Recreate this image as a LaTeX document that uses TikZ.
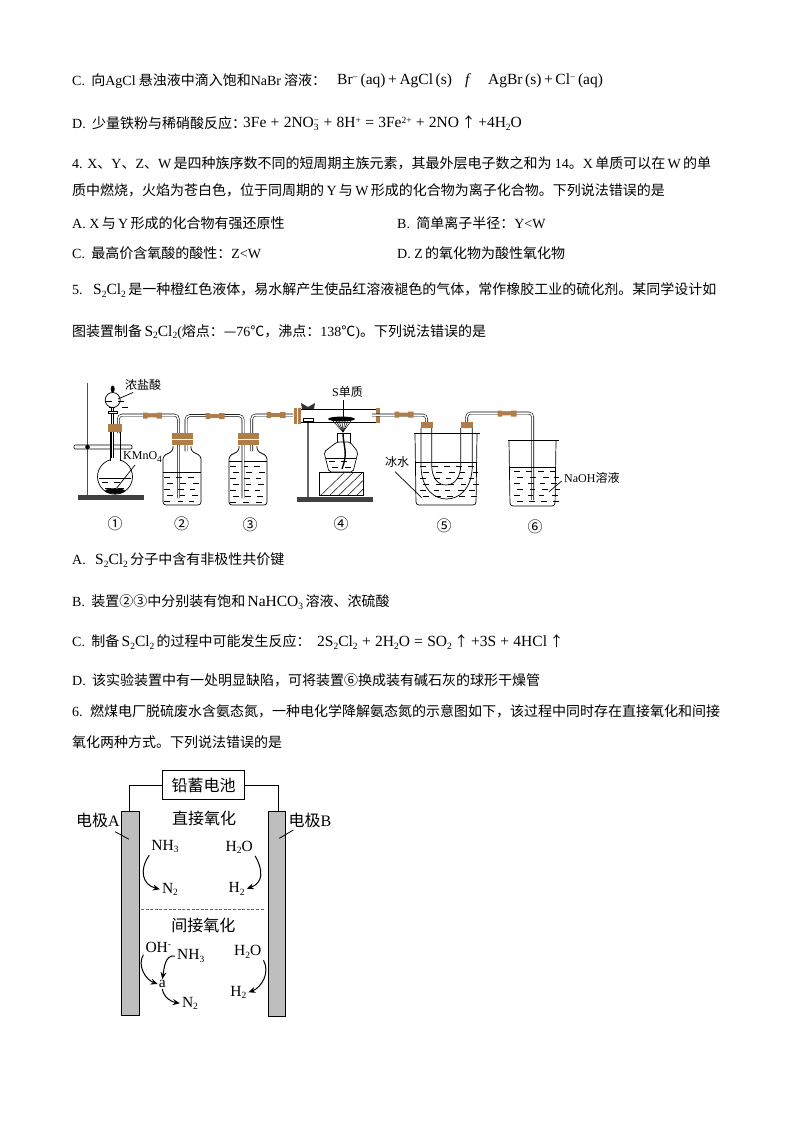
\documentclass[tikz,border=0pt]{standalone}
\usepackage{fontspec}
\setmainfont{Noto Sans CJK SC}
\newfontfamily\latfont{Liberation Serif}
\usetikzlibrary{positioning,arrows.meta}
\definecolor{plugcol}{HTML}{B07D48}
\definecolor{railgray}{HTML}{BEBEBE}
\definecolor{sepblue}{HTML}{3F6F8F}
\newcommand\la[1]{{\latfont #1}}
\newcommand\lo[1]{\raisebox{-2.5pt}{\fontsize{9.5}{10}\selectfont #1}}
\newcommand\hi[1]{\raisebox{4.5pt}{\fontsize{9.5}{10}\selectfont #1}}
\newcommand\eqn[1]{{\latfont\fontsize{15.5}{17}\selectfont #1}}
\newcommand\wash[4]{\foreach \dy in {0,6,...,#4}{\foreach \dx in {0,12,...,#3}{
  \pgfmathsetmacro{\wx}{#1+\dx+mod(\dy,12)/2+mod(\dx*\dy,5)/2}
  \pgfmathsetmacro{\wy}{#2+\dy}
  \draw[line width=.45pt] (\wx,\wy) -- ++(5.5,0);}}}
\newcommand\hose[2]{\fill[plugcol] (#1-9.5,#2-3) rectangle (#1-5,#2+3) (#1-5,#2-1.8) rectangle (#1+5,#2+1.8) (#1+4,#2-3) rectangle (#1+9.5,#2+3);}
\newcommand\bottle[3]{\begin{scope}[xshift=#1pt]
\draw[glass,rounded corners=3pt] (-9,446) -- (-9,451) -- (-19,456) -- (-19,505) -- (19,505) -- (19,456) -- (9,451) -- (9,446);
\draw[glass] (-19,#2) -- (19,#2);
\wash{-18}{#2+5}{30}{#3}
\end{scope}}
\tikzset{
  txt/.style={anchor=west,inner sep=0pt,font=\fontsize{14}{15}\selectfont},
  tag/.style={inner sep=1pt,font=\fontsize{12}{13}\selectfont},
  chem/.style={inner sep=2pt,font=\latfont\fontsize{15.5}{17}\selectfont},
  hanzi/.style={inner sep=1pt,font=\fontsize{16}{18}\selectfont},
  num/.style={inner sep=0pt,font=\fontsize{15}{16}\selectfont},
  glass/.style={line width=.7pt},
  tube/.style={draw=black,line width=.55pt,double=white,double distance=1.5pt,rounded corners=4pt},
  plug/.style={fill=plugcol,inner sep=0pt,rectangle},
  rail/.style={draw,line width=1pt,fill=railgray,inner sep=0pt,rectangle},
  curve/.style={-{Stealth[length=7pt,width=6pt]},line width=1pt}
}
\begin{document}
\begin{tikzpicture}[x=1pt,y=-1pt]
\useasboundingbox (0,0) rectangle (794,1123);
% question text
\node[txt] (q1) at (72,81) {\la{C.} \ 向\la{AgCl} 悬浊液中滴入饱和\la{NaBr} 溶液：};
\node[txt] (q1a) at (337,81) {\eqn{Br\hi{−}\,(aq)\,+\,AgCl\,(s)}};
\node[txt] (q1f) at (465,81) {\eqn{\itshape f}};
\node[txt] (q1b) at (488,81) {\eqn{AgBr\,(s)\,+\,Cl\hi{−}\,(aq)}};
\node[txt] (q2a) at (72,123) {\la{D.} \ 少量铁粉与稀硝酸反应：};
\node[txt] (q2b) at (243,123) {\eqn{3Fe\;+\;2NO\rlap{\lo{3}}\hi{−}\;+\;8H\hi{+}\;=\;3Fe\hi{2+}\;+\;2NO\,}↑\eqn{\,+4H\lo{2}O}};
\node[txt] (q3) at (72,163) {\la{4. X}、\la{Y}、\la{Z}、\la{W}\,是四种族序数不同的短周期主族元素，其最外层电子数之和为 \la{14}。\la{X}\,单质可以在\,\la{W}\,的单};
\node[txt] (q4) at (72,190) {质中燃烧，火焰为苍白色，位于同周期的\,\la{Y}\,与\,\la{W}\,形成的化合物为离子化合物。下列说法错误的是};
\node[txt] (q5) at (72,223) {\la{A. X}\,与\,\la{Y}\,形成的化合物有强还原性};
\node[txt] (q6) at (397,223) {\la{B.} \ 简单离子半径：\la{Y<W}};
\node[txt] (q7) at (72,253) {\la{C.} \ 最高价含氧酸的酸性：\la{Z<W}};
\node[txt] (q8) at (397,253) {\la{D. Z}\,的氧化物为酸性氧化物};
\node[txt] (q9) at (72,290) {\la{5.} \ \ \eqn{S\lo{2}Cl\lo{2}}\,是一种橙红色液体，易水解产生使品红溶液褪色的气体，常作橡胶工业的硫化剂。某同学设计如};
\node[txt] (q10) at (72,332) {图装置制备\,\eqn{S\lo{2}Cl\lo{2}}\la{(}熔点：—\la{76}℃，沸点：\la{138}℃\la{)}。下列说法错误的是};
\node[txt] (q11) at (72,560) {\la{A.} \ \ \eqn{S\lo{2}Cl\lo{2}}\,分子中含有非极性共价键};
\node[txt] (q12) at (72,602) {\la{B.} \ 装置②③中分别装有饱和\,\eqn{NaHCO\lo{3}}\,溶液、浓硫酸};
\node[txt] (q13a) at (72,642) {\la{C.} \ 制备\,\eqn{S\lo{2}Cl\lo{2}}\,的过程中可能发生反应：};
\node[txt] (q13b) at (317,642) {\eqn{2S\lo{2}Cl\lo{2}\;+\;2H\lo{2}O\;=\;SO\lo{2}\,}↑\eqn{\,+3S\;+\;4HCl\,}↑};
\node[txt] (q14) at (72,680) {\la{D.} \ 该实验装置中有一处明显缺陷，可将装置⑥换成装有碱石灰的球形干燥管};
\node[txt] (q15) at (72,711) {\la{6.} \ 燃煤电厂脱硫废水含氨态氮，一种电化学降解氨态氮的示意图如下，该过程中同时存在直接氧化和间接};
\node[txt] (q16) at (72,742) {氧化两种方式。下列说法错误的是};
% apparatus 1
\fill[black!75] (78,495) rectangle (144,500);
\draw[line width=1.4pt,black!70] (87.5,383) -- (87.5,495);
\draw[glass,fill=white,rounded corners=1pt] (74,445) rectangle (132,449);
\node[draw,circle,fill=black,inner sep=0pt,minimum size=4] (clamp) at (87.5,447) {};
\node[draw,circle,line width=.7pt,minimum size=35,inner sep=0pt] (flask) at (115,476.7) {};
\fill[white] (110,452) rectangle (120,463);
\draw[glass] (110,432) -- (110,461) (120,432) -- (120,461);
\draw[glass] (99,478) -- (131,478);
\wash{102}{482}{22}{6}
\fill (115,491) ellipse [x radius=10pt,y radius=2.8pt];
\node[draw,circle,line width=.7pt,minimum size=15,inner sep=0pt] (funnel) at (112.7,400) {};
\fill (112.7,389) ellipse [x radius=2pt,y radius=3.5pt];
\wash{106}{401}{7}{6}
\draw[tube] (112.5,408) -- (112.5,458);
\draw[glass,fill=white] (108,411) rectangle (117,413.5);
\draw[tube] (118.3,433) -- (118.3,415) -- (178.3,415) -- (178.3,498);
\node[plug,minimum width=14,minimum height=8] (plug1) at (115,428) {};
\hose{152.5}{415.5}
\node[tag,anchor=west] (hcl) at (124,385) {浓盐酸};
\draw[glass] (118,399) -- (133,392.5);
\node[chem,font=\latfont\fontsize{12}{13}\selectfont,anchor=west] (kmno) at (121,457) {KMnO\lo{4}};
\draw[glass] (135,465) -- (116.7,488);
\node[num] (n1) at (115,524) {①};
% apparatus 2 and 3
\bottle{182}{472}{24}
\bottle{248}{461}{36}
\draw[tube] (186,451) -- (186,415.5) -- (243,415.5) -- (243,498);
\draw[tube] (251.7,451) -- (251.7,415) -- (293,415);
\node[plug,minimum width=21,minimum height=12.5] (plug2) at (182,439) {};
\node[plug,minimum width=21,minimum height=12.5] (plug3) at (248.4,439) {};
\draw[white,line width=.5pt] (plug2.west) -- (plug2.east) (plug3.west) -- (plug3.east);
\hose{215}{416}
\hose{276}{415}
\node[num] (n2) at (181.7,524) {②};
\node[num] (n3) at (250,525) {③};
% apparatus 4
\fill[black!75] (297,497) rectangle (372.7,502);
\draw[line width=1.2pt,black!60] (308,420) -- (308,497);
\draw[tube] (308,358) -- (308,404);
\draw[glass,fill=white] (303,418.5) rectangle (313,421.5);
\fill[black!80] (301,403) -- (308,407) -- (315,403) -- (314,409) -- (302,409) -- cycle;
\draw[glass] (300,409) -- (376,409) (300,422.3) -- (376,422.3);
\foreach \px in {294,298}{\fill[plugcol] (\px,408) rectangle (\px+2.6,424);}
\draw[tube,rounded corners=0pt] (372,415) -- (378,415);
\fill[plugcol] (376,408) rectangle (380,422.5);
\fill (341.5,419) ellipse [x radius=13.5pt,y radius=2.4pt];
\foreach \fx in {333,336,...,351}{\draw[line width=.5pt] (\fx,421) -- (343,432);}
\draw[glass] (343,400) -- (343,417);
\node[tag,anchor=west] (sul) at (331,392) {\la{S}单质};
\draw[glass] (319,472) rectangle (363,495);
\begin{scope}
\clip (319,472) rectangle (363,495);
\foreach \hx in {0,9,...,72}{\draw[line width=.5pt] (319+\hx,497) -- (347+\hx,470);}
\end{scope}
\draw[glass,fill=white] (337,433) rectangle (350,447);
\draw[glass,fill=white,rounded corners=2pt] (337,442) -- (324,452) -- (329,472) -- (353,472) -- (358,452) -- (350,442) -- cycle;
\draw[glass] (326,458) -- (356,458);
\wash{329}{461}{22}{6}
\draw[line width=1.4pt] (343,434) .. controls (344,450) and (348,452) .. (342,469);
\node[num] (n4) at (341,523.5) {④};
% apparatus 5
\draw[glass,rounded corners=3pt] (415,433) -- (416,505) -- (476,505) -- (477,434);
\draw[glass] (414,433.3) -- (480,433.3);
\draw[glass] (415,462) -- (477,462);
\wash{420}{466}{48}{34}
\draw[glass] (421,428) -- (421,465) .. controls (421,490) and (435,499) .. (446.7,499) .. controls (458,499) and (472.3,490) .. (472.3,465) -- (472.3,428);
\draw[glass] (431.7,428) -- (431.7,465) .. controls (431.7,478) and (438,485) .. (446,485) .. controls (454,485) and (460.7,478) .. (460.7,465) -- (460.7,428);
\draw[tube] (372,415) -- (426.7,415) -- (426.7,428);
\draw[tube] (466.7,428) -- (466.7,413) -- (532.7,413) -- (532.7,500);
\node[plug,minimum width=12,minimum height=6.5] (plug5a) at (426.5,425) {};
\node[plug,minimum width=12,minimum height=6.5] (plug5b) at (466.5,425) {};
\hose{404}{414.5}
\hose{507}{413.5}
\node[tag] (ice) at (397,462) {冰水};
\draw[glass] (395,471.7) -- (421.7,497.7);
\node[num] (n5) at (444,526) {⑤};
% apparatus 6
\draw[glass,rounded corners=3pt] (509,441) -- (510,506) -- (555,506) -- (556,441);
\draw[glass] (508,440.7) -- (559,440.7);
\draw[glass] (510,467) -- (556,467);
\wash{514}{471}{36}{30}
\node[tag,anchor=west] (naoh) at (563,478) {\la{NaOH}溶液};
\draw[glass] (561.7,481) -- (549,491.7);
\node[num] (n6) at (535,527) {⑥};
% electrolysis cell
\node[draw,line width=1pt,minimum width=82,minimum height=29,hanzi] (cell) at (203.7,785) {铅蓄电池};
\node[rail,minimum width=17.5,minimum height=204] (elecA) at (130.7,913) {};
\node[rail,minimum width=17.5,minimum height=205] (elecB) at (277,913.5) {};
\draw[line width=.9pt] (cell.west) -| (129.3,810.7);
\draw[line width=.9pt] (cell.east) -| (278.3,810.7);
\node[hanzi,anchor=center] (labA) at (98,820) {电极\la{A}};
\node[hanzi,anchor=center] (labB) at (310,820) {电极\la{B}};
\draw[line width=.8pt] (115,831.7) -- (129,839.3);
\draw[line width=.8pt] (279.3,838.3) -- (293.3,830);
\node[hanzi] (direct) at (204,818.3) {直接氧化};
\node[hanzi] (indirect) at (203.3,925.7) {间接氧化};
\draw[sepblue,line width=1pt,dash pattern=on 3pt off 1.6pt] (141,909.7) -- (264,909.7);
\node[chem] (nh3a) at (165,846.7) {NH\lo{3}};
\node[chem] (n2a) at (170,889.3) {N\lo{2}};
\node[chem] (h2oa) at (239.3,847.3) {H\lo{2}O};
\node[chem] (h2a) at (236.7,888.7) {H\lo{2}};
\node[chem] (oh) at (158.3,947.3) {OH\hi{-}};
\node[chem] (nh3b) at (190.7,956) {NH\lo{3}};
\node[chem,inner sep=1pt] (mida) at (162.3,984) {a};
\node[chem] (n2b) at (190,1003.3) {N\lo{2}};
\node[chem] (h2ob) at (247.7,951.7) {H\lo{2}O};
\node[chem] (h2b) at (238.3,992.3) {H\lo{2}};
\draw[curve] (nh3a.south west) to[out=235,in=165,looseness=1.3] (n2a.west);
\draw[curve] (h2oa.south east) to[out=-60,in=20,looseness=1.3] (h2a.east);
\draw[curve] (oh.south west) to[out=240,in=160] (mida.west);
\draw[curve] (nh3b.west) to[out=170,in=80] (mida.north);
\draw[curve] (mida.south) to[out=-80,in=170] (n2b.west);
\draw[curve] (h2ob.south east) to[out=-60,in=20] (h2b.east);
\end{tikzpicture}
\end{document}
